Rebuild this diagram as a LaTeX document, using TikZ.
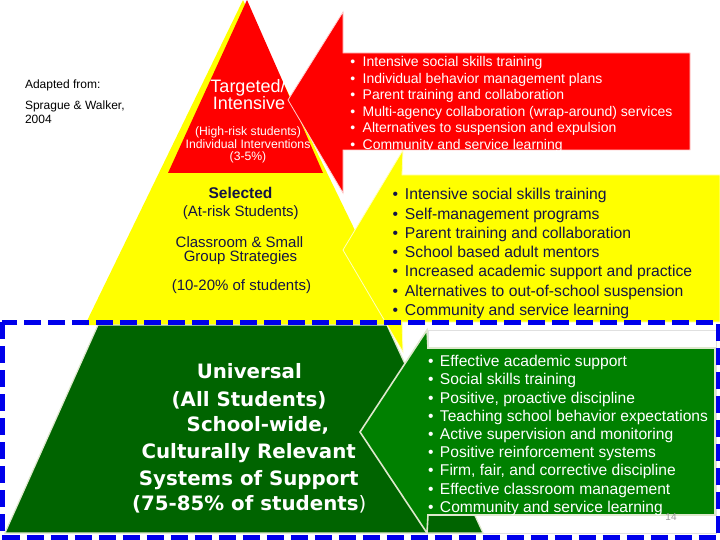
\documentclass[tikz,border=0pt]{standalone}
\usepackage{fontspec}
\setmainfont{Liberation Sans}
\newfontfamily\verd{DejaVu Sans}
\definecolor{navy}{RGB}{20,20,70}
\definecolor{yel}{RGB}{255,255,0}
\definecolor{rd}{RGB}{255,0,0}
\definecolor{dgreen}{RGB}{0,100,0}
\definecolor{cgreen}{RGB}{0,128,0}
\definecolor{gline}{RGB}{222,232,205}
\definecolor{yline}{RGB}{255,255,190}
\definecolor{rline}{RGB}{255,205,205}
\definecolor{bdash}{RGB}{0,0,235}
\tikzset{
  txt/.style={inner sep=0pt, outer sep=0pt},
  rlist/.style={txt, anchor=base west, text=white, font=\fontsize{14}{16}\selectfont},
  ylist/.style={txt, anchor=base west, text=navy, font=\fontsize{15.7}{18}\selectfont},
  glist/.style={txt, anchor=base west, text=white, font=\fontsize{15.6}{18}\selectfont},
  tbig/.style={txt, anchor=base, text=white, font=\fontsize{18}{18}\selectfont},
  tsmall/.style={txt, anchor=base, text=white, font=\fontsize{12.2}{13}\selectfont},
  ysel/.style={txt, anchor=base, text=navy, font=\fontsize{15.5}{16}\selectfont\bfseries},
  ytext/.style={txt, anchor=base, text=navy, font=\fontsize{15}{16}\selectfont},
  gtext/.style={txt, anchor=base, text=white, font=\verd\fontsize{19.8}{20}\selectfont\bfseries},
  adapt/.style={txt, anchor=base west, text=black, font=\fontsize{12}{13}\selectfont},
  bluedash/.style={draw=bdash, line width=5pt, dash pattern=on 17pt off 7pt}
}
\begin{document}
\begin{tikzpicture}[x=1pt,y=-1pt]
\useasboundingbox (0,0) rectangle (720,540);
\fill[white] (0,0) rectangle (720,540);
% white backdrop of green callout
\filldraw[fill=white, draw=black!12, line width=1pt] (428,330) rectangle (716,533);
% yellow pyramid
\fill[yel] (243,0) -- (401,325) -- (85,325) -- cycle;
% green trapezoid
\filldraw[fill=dgreen, draw=gline, line width=1.2pt] (98,325) -- (387,325) -- (483,533) -- (5,533) -- cycle;
% red triangle
\fill[rd] (247,0) -- (323,173) -- (168,173) -- cycle;
% yellow callout
\filldraw[fill=yel, draw=yline, line width=0.8pt] (402,175) -- (403,150) -- (343,250) -- (403,352) -- (402,322) -- (720,322) -- (720,175) -- cycle;
% red callout
\filldraw[fill=rd, draw=rline, line width=0.8pt] (343,53) -- (343,12) -- (288,100) -- (343,193) -- (343,150) -- (690,150) -- (690,53) -- cycle;
% green callout
\filldraw[fill=cgreen, draw=gline, line width=1.6pt] (428,348) -- (427,330) -- (360,432) -- (427,533) -- (428,515) -- (715,515) -- (715,348) -- cycle;
% blue dashed frame
\draw[bluedash] (2,322) rectangle (718,537.5);

% left note
\node[adapt] (ad1) at (25,88.3) {Adapted from:};
\node[adapt] (ad2) at (25,109.5) {Sprague \& Walker,};
\node[adapt] (ad3) at (25,124) {2004};

% red triangle text
\node[tbig] (t1) at (248,92.7) {Targeted/};
\node[tbig] (t2) at (249,109.8) {Intensive};
\node[tsmall] (t3) at (248,136) {(High-risk students)};
\node[tsmall] (t4) at (248,148.7) {Individual Interventions};
\node[tsmall] (t5) at (248,161) {(3-5\%)};

% yellow pyramid text
\node[ysel] (s1) at (240.5,199) {Selected};
\node[ytext] (s2) at (240.8,216.5) {(At-risk Students)};
\node[ytext] (s3) at (239.5,247.2) {Classroom \& Small};
\node[ytext] (s4) at (240.5,261.3) {Group Strategies};
\node[ytext] (s5) at (241.4,290) {(10-20\% of students)};

% green pyramid text
\node[gtext] (u1) at (249.3,378.3) {Universal};
\node[gtext] (u2) at (249,406.7) {(All Students)};
\node[gtext] (u3) at (258,431.7) {School-wide,};
\node[gtext] (u4) at (248.7,458.3) {Culturally Relevant};
\node[gtext] (u5) at (248.8,485) {Systems of Support};
\node[gtext] (u6) at (249.2,510) {(75-85\% of students\textmd{)}};

% red list
\foreach \t [count=\i] in {Intensive social skills training, Individual behavior management plans, Parent training and collaboration, Multi-agency collaboration (wrap-around) services, Alternatives to suspension and expulsion, Community and service learning}
  \node[rlist] (r\i) at (362.7, 49.9+16.6*\i) {\llap{\textbullet\hspace{7.5pt}}\t};

% yellow list
\foreach \t [count=\i] in {Intensive social skills training, Self-management programs, Parent training and collaboration, School based adult mentors, Increased academic support and practice, Alternatives to out-of-school suspension, Community and service learning}
  \node[ylist] (y\i) at (405, 180.8+19.2*\i) {\llap{\textbullet\hspace{7pt}}\t};

% green list
\foreach \t [count=\i] in {Effective academic support, Social skills training, {Positive, proactive discipline}, Teaching school behavior expectations, Active supervision and monitoring, Positive reinforcement systems, {Firm, fair, and corrective discipline}, Effective classroom management, Community and service learning}
  \node[glist] (g\i) at (440, 348.5+18.2*\i) {\llap{\textbullet\hspace{6.5pt}}\t};

% page number
\node[txt, anchor=base, text=black!40, font=\fontsize{10}{11}\selectfont] (pg) at (671,520) {14};
\end{tikzpicture}
\end{document}
